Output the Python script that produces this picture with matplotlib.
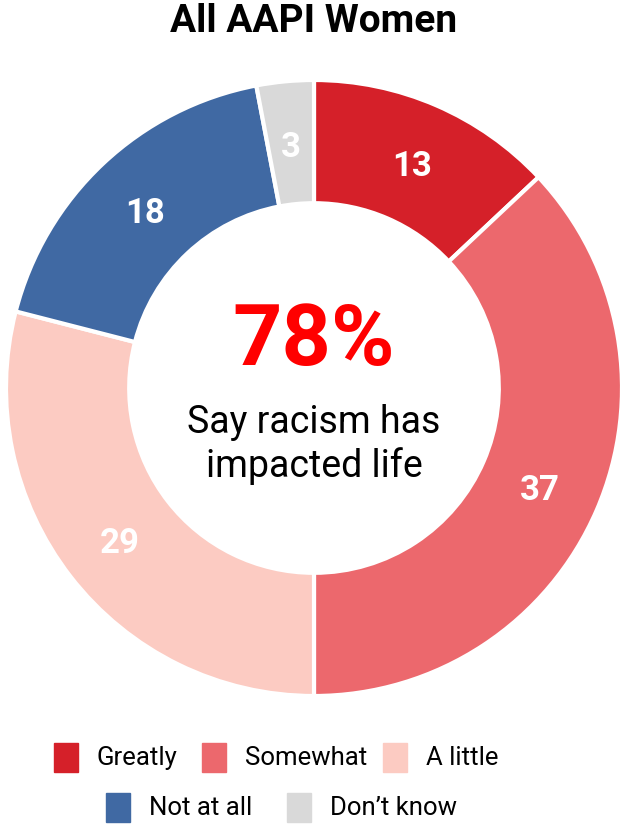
import matplotlib
matplotlib.use("Agg")
import matplotlib.pyplot as plt
from matplotlib.patches import Rectangle
import numpy as np

categories = ["Greatly", "Somewhat", "A little", "Not at all", "Don\u2019t know"]
values = [13, 37, 29, 18, 3]
colors = ["#d52029", "#ec686d", "#fccbc2", "#4069a3", "#d9d9d9"]
headline = "78%"
subtitle = "Say racism has\nimpacted life"
title = "All AAPI Women"

plt.rcParams['font.family'] = ['Roboto', 'DejaVu Sans']

W, H = 626, 828
fig = plt.figure(figsize=(W / 100, H / 100), dpi=100)

cx, cy, R = 314, 389, 308
ax = fig.add_axes([(cx - R) / W, (H - cy - R) / H, 2 * R / W, 2 * R / H])
wedges, _ = ax.pie(values, colors=colors, startangle=90, counterclock=False,
                   radius=1, wedgeprops=dict(width=0.4, edgecolor="white", linewidth=3))
ax.set_xlim(-1, 1)
ax.set_ylim(-1, 1)
ax.axis("off")

ang = 90.0
for v in values:
    mid = np.deg2rad(ang - v * 3.6 / 2)
    ax.text(0.8 * np.cos(mid), 0.8 * np.sin(mid) - 0.012, str(v), color="white",
            fontsize=25, fontweight="bold", ha="center", va="center")
    ang -= v * 3.6

ax.text(0, 0.155, headline, color="#ff0000", fontsize=62, fontweight="bold",
        ha="center", va="center")
ax.text(0, -0.18, subtitle, color="black", fontsize=27, ha="center", va="center",
        linespacing=1.2)

fig.text(314 / W, 1 - 22 / H, title, fontsize=28, fontweight="bold",
         ha="center", va="center")

# legend drawn by hand, two rows
rows = [[0, 1, 2], [3, 4]]
row_y = [758, 808]
starts = [[54, 202, 383], [106, 287]]
for r, idxs in enumerate(rows):
    for k, i in enumerate(idxs):
        x0 = starts[r][k]
        fig.patches.append(Rectangle((x0 / W, 1 - (row_y[r] + 14.5) / H), 24 / W, 29 / H,
                                     transform=fig.transFigure, color=colors[i]))
        fig.text((x0 + 43) / W, 1 - row_y[r] / H, categories[i], fontsize=18.5,
                 ha="left", va="center")

fig.savefig("out.png", dpi=100)
